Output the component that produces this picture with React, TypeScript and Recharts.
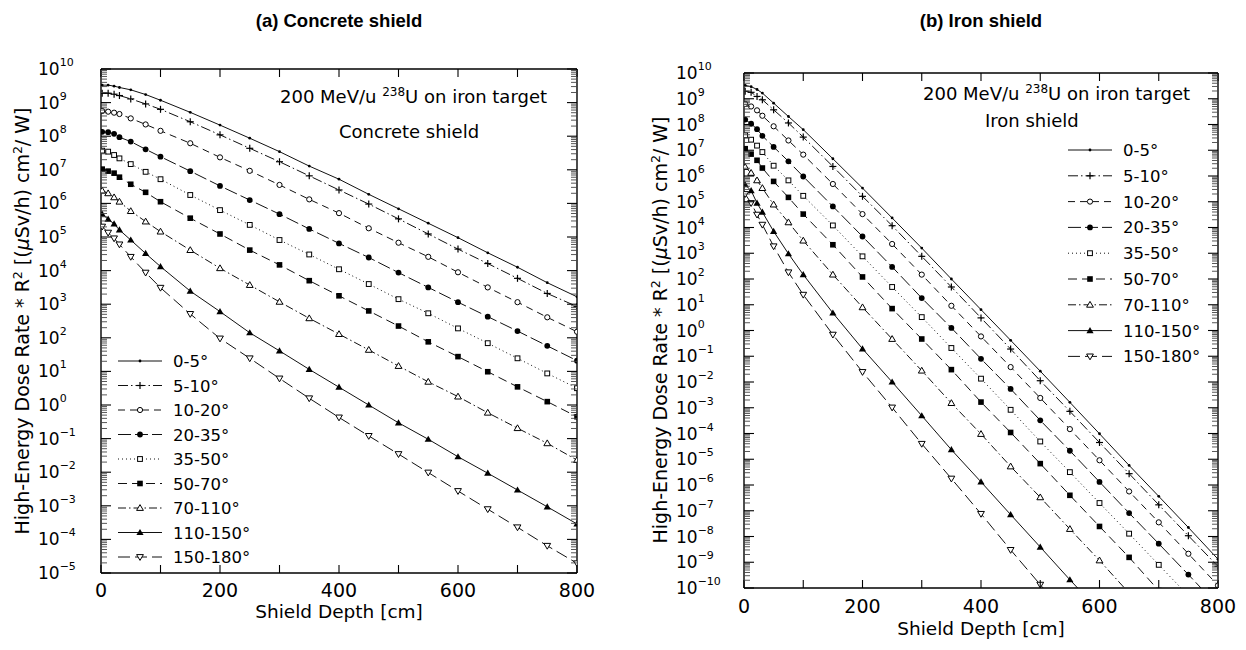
import React from 'react';
import { LineChart, Line, XAxis, YAxis } from 'recharts';

// shield depth [cm] of the scoring points
const depths = [2, 12, 22, 31, 50, 75, 100, 150, 200, 250, 300, 350, 400, 450, 500, 550, 600, 650, 700, 750, 800];

const angleBins = ['0-5°', '5-10°', '10-20°', '20-35°', '35-50°', '50-70°', '70-110°', '110-150°', '150-180°'];

// log10 of dose rate * R^2, concrete shield
const concrete0to5 = [9.52, 9.52, 9.49, 9.45, 9.38, 9.24, 9.07, 8.71, 8.33, 7.94, 7.54, 7.11, 6.72, 6.27, 5.84, 5.41, 4.98, 4.53, 4.10, 3.64, 3.22];
const concrete5to10 = [9.28, 9.28, 9.25, 9.21, 9.11, 8.96, 8.80, 8.43, 8.04, 7.64, 7.24, 6.82, 6.40, 5.98, 5.54, 5.09, 4.64, 4.21, 3.77, 3.32, 2.93];
const concrete10to20 = [8.75, 8.73, 8.70, 8.66, 8.53, 8.35, 8.16, 7.79, 7.37, 6.97, 6.55, 6.12, 5.71, 5.26, 4.83, 4.41, 3.95, 3.50, 3.06, 2.61, 2.18];
const concrete20to35 = [8.13, 8.12, 8.07, 7.97, 7.84, 7.61, 7.39, 6.96, 6.52, 6.10, 5.68, 5.24, 4.81, 4.39, 3.94, 3.50, 3.06, 2.63, 2.20, 1.76, 1.32];
const concrete35to50 = [7.57, 7.54, 7.44, 7.34, 7.17, 6.94, 6.72, 6.25, 5.80, 5.36, 4.91, 4.48, 4.04, 3.60, 3.15, 2.73, 2.28, 1.84, 1.39, 0.94, 0.50];
const concrete50to70 = [7.02, 6.96, 6.90, 6.78, 6.57, 6.33, 6.05, 5.56, 5.09, 4.61, 4.17, 3.70, 3.25, 2.80, 2.35, 1.88, 1.44, 0.99, 0.54, 0.10, -0.35];
const concrete70to110 = [6.38, 6.30, 6.18, 6.05, 5.77, 5.46, 5.16, 4.61, 4.07, 3.57, 3.07, 2.58, 2.11, 1.64, 1.16, 0.69, 0.25, -0.23, -0.69, -1.14, -1.64];
const concrete110to150 = [5.68, 5.53, 5.39, 5.21, 4.91, 4.51, 4.12, 3.39, 2.78, 2.15, 1.61, 1.06, 0.53, 0.0, -0.53, -1.02, -1.54, -2.03, -2.53, -3.03, -3.54];
const concrete150to180 = [5.31, 5.13, 4.96, 4.78, 4.41, 3.94, 3.49, 2.71, 1.98, 1.39, 0.79, 0.20, -0.37, -0.92, -1.46, -2.01, -2.56, -3.10, -3.64, -4.19, -4.71];

// log10 of dose rate * R^2, iron shield
const iron0to5 = [9.52, 9.47, 9.36, 9.22, 8.83, 8.31, 7.80, 6.67, 5.53, 4.37, 3.20, 2.00, 0.81, -0.38, -1.58, -2.79, -4.01, -5.24, -6.44, -7.65, -8.88];
const iron5to10 = [9.29, 9.25, 9.09, 8.96, 8.57, 8.06, 7.51, 6.37, 5.21, 4.07, 2.88, 1.69, 0.49, -0.72, -1.95, -3.14, -4.35, -5.56, -6.77, -7.97, -9.16];
const iron10to20 = [8.80, 8.70, 8.55, 8.34, 7.93, 7.38, 6.83, 5.69, 4.52, 3.36, 2.17, 0.96, -0.23, -1.42, -2.62, -3.83, -5.04, -6.25, -7.45, -8.67, -9.90];
const iron20to35 = [8.19, 8.03, 7.82, 7.56, 7.13, 6.57, 5.98, 4.82, 3.65, 2.47, 1.26, 0.10, -1.10, -2.27, -3.49, -4.67, -5.88, -7.09, -8.28, -9.48, -10.7];
const iron35to50 = [7.58, 7.41, 7.18, 6.93, 6.40, 5.83, 5.23, 4.08, 2.88, 1.69, 0.52, -0.68, -1.87, -3.08, -4.31, -5.50, -6.70, -7.89, -9.10, -10.3];
const iron50to70 = [7.06, 6.85, 6.61, 6.31, 5.79, 5.17, 4.52, 3.33, 2.08, 0.85, -0.33, -1.52, -2.78, -3.96, -5.17, -6.40, -7.61, -8.81, -10.1];
const iron70to110 = [6.35, 6.12, 5.83, 5.53, 4.89, 4.20, 3.49, 2.17, 0.90, -0.33, -1.56, -2.82, -4.02, -5.28, -6.48, -7.71, -8.93, -10.2];
const iron110to150 = [5.66, 5.43, 4.95, 4.60, 3.85, 2.98, 2.17, 0.68, -0.71, -2.00, -3.31, -4.63, -5.88, -7.15, -8.41, -9.68, -10.9];
const iron150to180 = [5.30, 4.95, 4.50, 4.11, 3.27, 2.26, 1.39, -0.16, -1.61, -2.99, -4.40, -5.75, -7.12, -8.52, -9.87, -11.2];

const depthTicks = [0, 100, 200, 300, 400, 500, 600, 700, 800];

const concreteSeries = [concrete0to5, concrete5to10, concrete10to20, concrete20to35, concrete35to50, concrete50to70, concrete70to110, concrete110to150, concrete150to180];
const ironSeries = [iron0to5, iron5to10, iron10to20, iron20to35, iron35to50, iron50to70, iron70to110, iron110to150, iron150to180];

// marker + dash for each angular bin
const markKinds = ['dot', 'plus', 'circle', 'disc', 'square', 'fsquare', 'tri', 'ftri', 'itri'];
const dashes = ['', '10 3 1.5 3', '7 5', '13 4', '1 3', '9 5', '8 3 1.5 3', '', '12 5'];

const plotFont = '"DejaVu Sans", Arial, sans-serif';
const titleFont = '"Liberation Sans", Arial, sans-serif';

const buildRows = (series: number[][]) =>
    depths.map((d, i) => {
        const row: any = { depth: d };
        series.forEach((s, k) => { row['s' + k] = s[i] ?? null; });
        return row;
    });

const concreteRows = buildRows(concreteSeries);
const ironRows = buildRows(ironSeries);

// decades + log minor ticks (exponent scale)
const logTicks = (lo: number, hi: number) => {
    const t: number[] = [];
    for (let n = lo; n <= hi; n++) {
        t.push(n);
        if (n < hi) for (let k = 2; k <= 9; k++) t.push(n + Math.log10(k));
    }
    return t;
};

const isDecade = (v: number) => Math.abs(v - Math.round(v)) < 1e-6;
const expText = (v: number) => { const r = Math.round(v); return r < 0 ? '\u2212' + Math.abs(r) : String(r); };

const Mark = ({ kind, x, y }: { kind: string; x: number; y: number }) => {
    const s = '#000';
    switch (kind) {
        case 'dot': return <circle cx={x} cy={y} r={1.4} fill={s} />;
        case 'plus': return <g stroke={s} strokeWidth={1.2}><line x1={x - 3.5} x2={x + 3.5} y1={y} y2={y} /><line x1={x} x2={x} y1={y - 3.5} y2={y + 3.5} /></g>;
        case 'circle': return <circle cx={x} cy={y} r={2.6} fill="#fff" stroke={s} strokeWidth={1} />;
        case 'disc': return <circle cx={x} cy={y} r={2.9} fill={s} />;
        case 'square': return <rect x={x - 2.4} y={y - 2.4} width={4.8} height={4.8} fill="#fff" stroke={s} strokeWidth={1} />;
        case 'fsquare': return <rect x={x - 2.8} y={y - 2.8} width={5.6} height={5.6} fill={s} />;
        case 'tri': return <polygon points={`${x},${y - 3.4} ${x + 3.4},${y + 2.4} ${x - 3.4},${y + 2.4}`} fill="#fff" stroke={s} strokeWidth={1} />;
        case 'ftri': return <polygon points={`${x},${y - 3.6} ${x + 3.6},${y + 2.6} ${x - 3.6},${y + 2.6}`} fill={s} />;
        case 'itri': return <polygon points={`${x},${y + 3.4} ${x + 3.4},${y - 2.4} ${x - 3.4},${y - 2.4}`} fill="#fff" stroke={s} strokeWidth={1} />;
        default: return null;
    }
};

const makeDot = (kind: string) => (p: any) => {
    const { cx, cy, index, value } = p;
    if (cx == null || cy == null || value == null || Number.isNaN(cy)) return <g key={index} />;
    return <g key={index}><Mark kind={kind} x={cx} y={cy} /></g>;
};

const YTick = (props: any) => {
    const { x, y, payload, side, labelDx } = props;
    const v = payload.value;
    const major = isDecade(v);
    const dir = side === 'left' ? 1 : -1;
    return (
        <g>
            <line x1={x} x2={x + dir * (major ? 10 : 6)} y1={y} y2={y} stroke={major ? '#000' : '#444'} strokeWidth={major ? 1.1 : 0.9} />
            {side === 'left' && major && (
                <text x={x - labelDx} y={y + 6} fontSize={17} fontFamily={plotFont} fill="#000">
                    10<tspan dy={-9} fontSize={11}>{expText(v)}</tspan>
                </text>
            )}
        </g>
    );
};

const XTick = (props: any) => {
    const { x, y, payload, side, labelDy } = props;
    const v = payload.value;
    const dir = side === 'bottom' ? -1 : 1;
    return (
        <g>
            <line x1={x} x2={x} y1={y} y2={y + dir * 8} stroke="#000" strokeWidth={1.1} />
            {side === 'bottom' && v % 200 === 0 && (
                <text x={x} y={y + labelDy} textAnchor="middle" fontSize={19} fontFamily={plotFont} fill="#000">{v}</text>
            )}
        </g>
    );
};

interface PanelProps {
    rows: any[];
    left: number;
    width: number;
    yLo: number;
    yHi: number;
    leftW: number;
    rightW: number;
    topH: number;
    bottomH: number;
    labelDx: number;
    labelDy: number;
}

const Panel: React.FC<PanelProps> = ({ rows, left, width, yLo, yHi, leftW, rightW, topH, bottomH, labelDx, labelDy }) => {
    const yTicks = logTicks(yLo, yHi);
    const axisLine = { stroke: '#000', strokeWidth: 1.4 };
    return (
        <div style={{ position: 'absolute', left, top: 0 }}>
            <LineChart width={width} height={650} data={rows} margin={{ top: 0, right: 0, bottom: 0, left: 0 }}>
                <XAxis xAxisId="b" dataKey="depth" type="number" domain={[0, 800]} ticks={depthTicks} interval={0} allowDataOverflow
                    orientation="bottom" height={bottomH} tickSize={0} tickMargin={0} axisLine={axisLine}
                    tick={<XTick side="bottom" labelDy={labelDy} />} />
                <XAxis xAxisId="t" dataKey="depth" type="number" domain={[0, 800]} ticks={depthTicks} interval={0} allowDataOverflow
                    orientation="top" height={topH} tickSize={0} tickMargin={0} axisLine={axisLine}
                    tick={<XTick side="top" />} />
                <YAxis yAxisId="l" type="number" domain={[yLo, yHi]} ticks={yTicks} interval={0} allowDataOverflow
                    orientation="left" width={leftW} tickSize={0} tickMargin={0} axisLine={axisLine}
                    tick={<YTick side="left" labelDx={labelDx} />} />
                <YAxis yAxisId="r" type="number" domain={[yLo, yHi]} ticks={yTicks} interval={0} allowDataOverflow
                    orientation="right" width={rightW} tickSize={0} tickMargin={0} axisLine={axisLine}
                    tick={<YTick side="right" />} />
                {markKinds.map((k, i) => (
                    <Line key={k} xAxisId="b" yAxisId="l" type="linear" dataKey={'s' + i} stroke="#111" strokeWidth={1}
                        strokeDasharray={dashes[i] || undefined} dot={makeDot(k)} activeDot={false}
                        isAnimationActive={false} connectNulls={false} />
                ))}
            </LineChart>
        </div>
    );
};

const Legend = ({ x, y, step }: { x: number; y: number; step: number }) => (
    <g>
        {angleBins.map((b, i) => {
            const yy = y + i * step;
            return (
                <g key={b}>
                    <line x1={x} x2={x + 44} y1={yy} y2={yy} stroke="#111" strokeWidth={1} strokeDasharray={dashes[i] || undefined} />
                    <Mark kind={markKinds[i]} x={x + 22} y={yy} />
                    <text x={x + 55} y={yy + 6} fontSize={16.5} fontFamily={plotFont} fill="#000">{b}</text>
                </g>
            );
        })}
    </g>
);

const YTitle = ({ x, y }: { x: number; y: number }) => (
    <text transform={`translate(${x},${y}) rotate(-90)`} textAnchor="middle" fontSize={19} fontFamily={plotFont} fill="#000">
        High-Energy Dose Rate * R<tspan dy={-7} fontSize={12.5}>2</tspan>
        <tspan dy={7}> [(</tspan><tspan fontStyle="italic">μ</tspan>Sv/h) cm<tspan dy={-7} fontSize={12.5}>2</tspan>
        <tspan dy={7}>/ W]</tspan>
    </text>
);

const Note = ({ x, y }: { x: number; y: number }) => (
    <text x={x} y={y} fontSize={18} fontFamily={plotFont} fill="#000">
        200 MeV/u <tspan dy={-7} fontSize={12}>238</tspan><tspan dy={7}>U on iron target</tspan>
    </text>
);

const App: React.FC = () => (
    <div style={{ position: 'absolute', left: 0, top: 0, width: 1246, height: 650, background: '#fff' }}>
        <Panel rows={concreteRows} left={0} width={620} yLo={-5} yHi={10} leftW={101} rightW={43} topH={69} bottomH={77} labelDx={63} labelDy={24} />
        <Panel rows={ironRows} left={620} width={626} yLo={-10} yHi={10} leftW={124} rightW={28} topH={73} bottomH={62} labelDx={68} labelDy={25} />
        <svg width={1246} height={650} style={{ position: 'absolute', left: 0, top: 0, pointerEvents: 'none' }}>
            <text x={339} y={27} textAnchor="middle" fontSize={18.5} fontWeight="bold" fontFamily={titleFont} fill="#000">(a) Concrete shield</text>
            <text x={981} y={27} textAnchor="middle" fontSize={18.5} fontWeight="bold" fontFamily={titleFont} fill="#000">(b) Iron shield</text>

            <YTitle x={28.5} y={321} />
            <YTitle x={666.5} y={330} />

            <text x={339} y={618} textAnchor="middle" fontSize={18.5} fontFamily={plotFont} fill="#000">Shield Depth [cm]</text>
            <text x={981} y={635} textAnchor="middle" fontSize={18.5} fontFamily={plotFont} fill="#000">Shield Depth [cm]</text>

            <Note x={280} y={103} />
            <text x={339} y={138} fontSize={18} fontFamily={plotFont} fill="#000">Concrete shield</text>
            <Note x={923} y={100} />
            <text x={985} y={127} fontSize={18} fontFamily={plotFont} fill="#000">Iron shield</text>

            <Legend x={118} y={361} step={24.5} />
            <Legend x={1068} y={150} step={25.8} />
        </svg>
    </div>
);

export default App;
